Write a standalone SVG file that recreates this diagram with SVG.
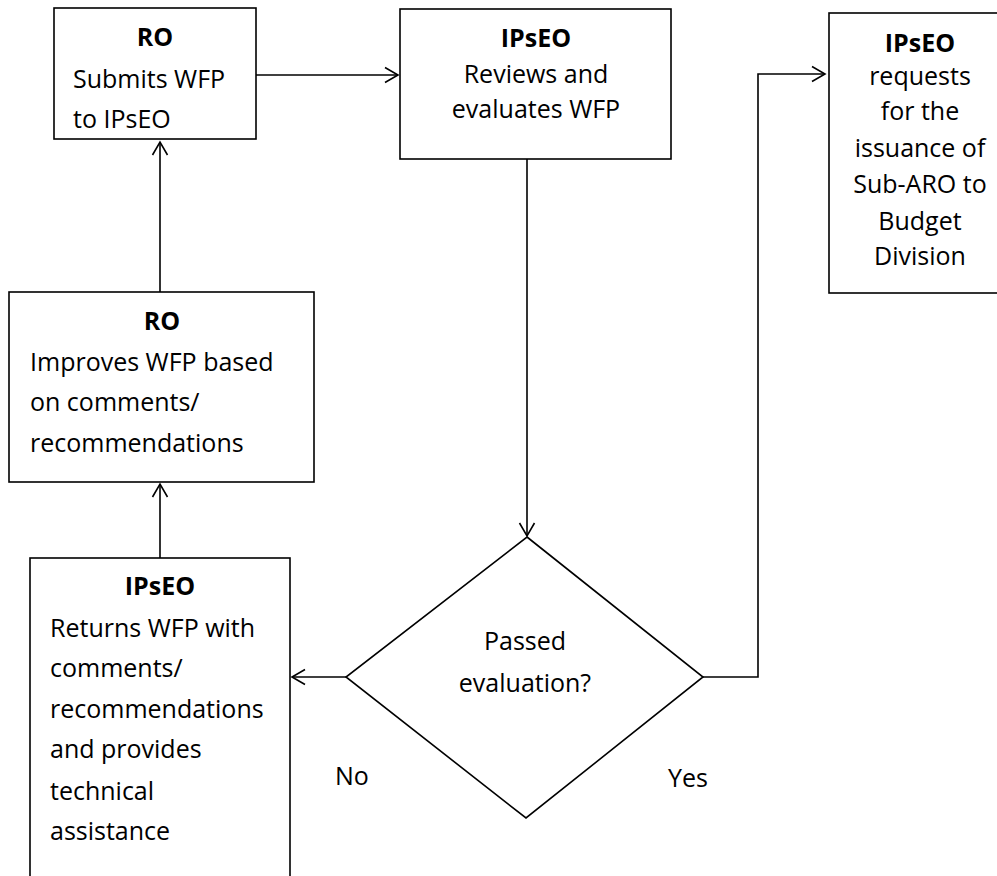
<svg xmlns="http://www.w3.org/2000/svg" width="997" height="876" viewBox="0 0 997 876">
<style>
.box{fill:#fff;stroke:#000;stroke-width:1.6}
.t{font-family:"Open Sans","Liberation Sans",sans-serif;font-size:25px;fill:#000}
.b{font-weight:bold}
.c{text-anchor:middle}
.ln{fill:none;stroke:#000;stroke-width:1.6}
</style>
<defs>
<marker id="arr" viewBox="-14 -9 16 18" refX="0" refY="0" markerWidth="16" markerHeight="18" markerUnits="userSpaceOnUse" orient="auto">
<path d="M-13,-7.5 L0,0 L-13,7.5" fill="none" stroke="#000" stroke-width="1.6"/>
</marker>
</defs>
<rect width="997" height="876" fill="#fff"/>
<g id="connectors">
<path class="ln" d="M256,75 H398" marker-end="url(#arr)"/>
<path class="ln" d="M527,159 V536" marker-end="url(#arr)"/>
<path class="ln" d="M703,677 H758 V74 H825" marker-end="url(#arr)"/>
<path class="ln" d="M346,677 H292" marker-end="url(#arr)"/>
<path class="ln" d="M160,558 V484" marker-end="url(#arr)"/>
<path class="ln" d="M160,292 V142" marker-end="url(#arr)"/>
</g>
<g id="n1">
<rect class="box" x="54" y="8" width="202" height="131"/>
<text class="t b c" x="155" y="46">RO</text>
<text class="t" x="73" y="88">Submits WFP</text>
<text class="t" x="73" y="128">to IPsEO</text>
</g>
<g id="n2">
<rect class="box" x="400" y="9" width="271" height="150"/>
<text class="t b c" x="536" y="47">IPsEO</text>
<text class="t c" x="536" y="83">Reviews and</text>
<text class="t c" x="536" y="118">evaluates WFP</text>
</g>
<g id="n3">
<rect class="box" x="829" y="13" width="182" height="280"/>
<text class="t b c" x="920" y="52">IPsEO</text>
<text class="t c" x="920" y="85">requests</text>
<text class="t c" x="920" y="120">for the</text>
<text class="t c" x="920" y="157">issuance of</text>
<text class="t c" x="920" y="193">Sub-ARO to</text>
<text class="t c" x="920" y="230">Budget</text>
<text class="t c" x="920" y="265">Division</text>
</g>
<g id="n4">
<rect class="box" x="9" y="292" width="305" height="190"/>
<text class="t b c" x="162" y="330">RO</text>
<text class="t" x="30" y="371">Improves WFP based</text>
<text class="t" x="30" y="411">on comments/</text>
<text class="t" x="30" y="452">recommendations</text>
</g>
<g id="n5">
<rect class="box" x="30" y="558" width="260" height="330"/>
<text class="t b c" x="160" y="595">IPsEO</text>
<text class="t" x="50" y="637">Returns WFP with</text>
<text class="t" x="50" y="677">comments/</text>
<text class="t" x="50" y="718">recommendations</text>
<text class="t" x="50" y="758">and provides</text>
<text class="t" x="50" y="800">technical</text>
<text class="t" x="50" y="840">assistance</text>
</g>
<g id="d1">
<polygon class="box" points="527,537 703,677 526,818 346,677"/>
<text class="t c" x="525" y="650">Passed</text>
<text class="t c" x="525" y="692">evaluation?</text>
</g>
<g id="labels">
<text class="t" x="335" y="785">No</text>
<text class="t" x="668" y="787">Yes</text>
</g>
</svg>
